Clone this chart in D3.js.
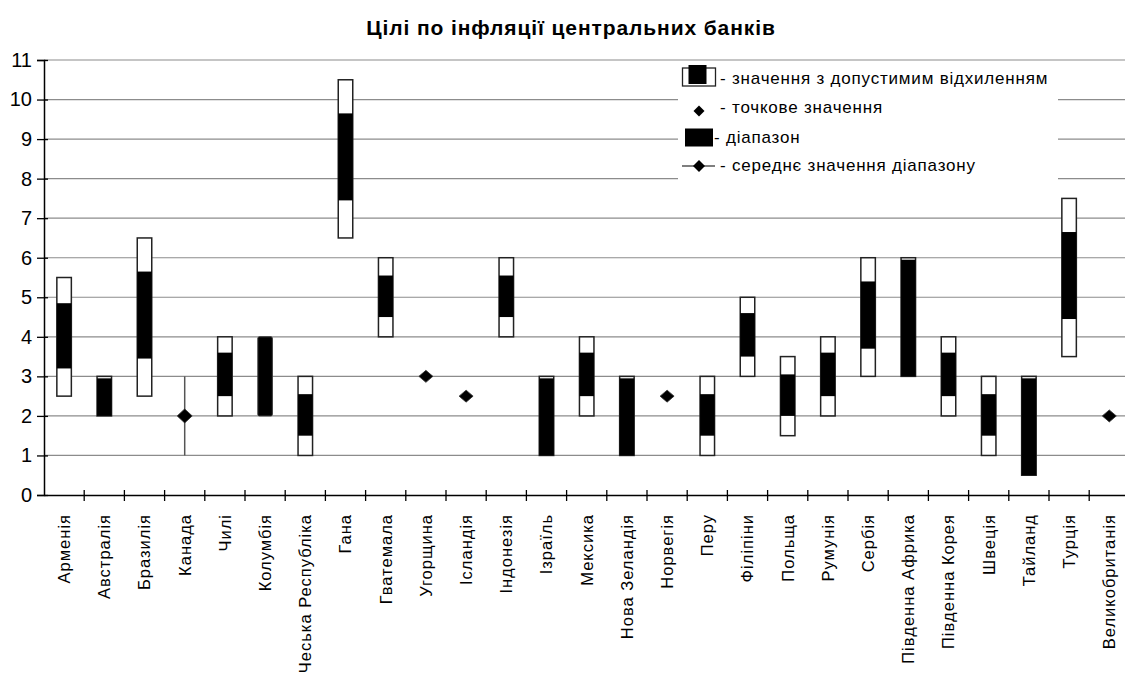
<!DOCTYPE html>
<html>
<head>
<meta charset="utf-8">
<script src="https://cdn.jsdelivr.net/npm/d3@7/dist/d3.min.js"></script>
<style>
  html, body { margin: 0; padding: 0; background: #fff; }
  svg { display: block; font-family: "Liberation Sans", Arial, sans-serif; }
</style>
</head>
<body>
<svg id="chart" width="1125" height="673"></svg>
<script>
// Countries along the horizontal axis
const countries = ["Арменія","Австралія","Бразилія","Канада","Чилі","Колумбія","Чеська Республіка","Гана","Гватемала","Угорщина","Ісландія","Індонезія","Ізраїль","Мексика","Нова Зеландія","Норвегія","Перу","Філіпіни","Польща","Румунія","Сербія","Південна Африка","Південна Корея","Швеція","Тайланд","Турція","Великобританія"];

// Kind of target: tol = value with tolerance band, range = range, point = point target, mid = range midpoint
const targetKind = ["tol","tol","tol","mid","tol","range","tol","tol","tol","point","point","tol","tol","tol","tol","point","tol","tol","tol","tol","tol","tol","tol","tol","tol","tol","point"];

// Outer band (tolerance limits / range limits), %
const outerLow  = [2.5, 2, 2.5, 1, 2, 2, 1, 6.5, 4, null, null, 4, 1, 2, 1, null, 1, 3, 1.5, 2, 3, 3, 2, 1, 0.5, 3.5, null];
const outerHigh = [5.5, 3, 6.5, 3, 4, 4, 3, 10.5, 6, null, null, 6, 3, 4, 3, null, 3, 5, 3.5, 4, 6, 6, 4, 3, 3, 7.5, null];

// Inner dark band, %
const innerLow  = [3.2, 2, 3.45, null, 2.5, null, 1.5, 7.45, 4.5, null, null, 4.5, 1, 2.5, 1, null, 1.5, 3.5, 2, 2.5, 3.7, 3, 2.5, 1.5, 0.5, 4.45, null];
const innerHigh = [4.85, 2.95, 5.65, null, 3.6, null, 2.55, 9.65, 5.55, null, null, 5.55, 2.95, 3.6, 2.95, null, 2.55, 4.6, 3.05, 3.6, 5.4, 5.95, 3.6, 2.55, 2.95, 6.65, null];

// Point targets and range midpoints, %
const pointValue = [null, null, null, 2, null, null, null, null, null, 3, 2.5, null, null, null, null, 2.5, null, null, null, null, null, null, null, null, null, null, 2];

const yTicks = [0,1,2,3,4,5,6,7,8,9,10,11];

const legendLabels = [
  "- значення з допустимим відхиленням",
  "- точкове значення",
  "- діапазон",
  "- середнє значення діапазону"
];

const titleText = "Цілі по інфляції центральних банків";

const svg = d3.select("#chart");
const plotLeft = 44, plotTop = 60, plotBottom = 495, step = 40.2;

const x = d3.scaleBand().domain(countries).range([plotLeft, plotLeft + step * countries.length]).padding(0);
const y = d3.scaleLinear().domain([0, 11]).range([plotBottom, plotTop]);

const barW = 14.5;
const cx = c => x(c) + x.bandwidth() / 2;

// Title
svg.append("text")
  .attr("x", 571).attr("y", 35)
  .attr("text-anchor", "middle")
  .attr("font-size", 21).attr("font-weight", "bold")
  .attr("letter-spacing", 0.9)
  .text(titleText);

// Horizontal gridlines
svg.append("g").selectAll("line")
  .data(yTicks.filter(t => t > 0))
  .join("line")
  .attr("x1", plotLeft).attr("x2", 1125)
  .attr("y1", d => y(d)).attr("y2", d => y(d))
  .attr("stroke", "#8c8c8c").attr("stroke-width", 1.2);

// Y axis
const yAxis = svg.append("g")
  .attr("transform", `translate(${plotLeft},0)`)
  .call(d3.axisLeft(y).tickValues(yTicks).tickSize(7).tickPadding(5));
yAxis.select(".domain").attr("stroke", "#000").attr("stroke-width", 1.5);
yAxis.selectAll(".tick line").attr("x2", -7).attr("x1", 4).attr("stroke", "#000").attr("stroke-width", 1.3);
yAxis.selectAll(".tick text").attr("font-size", 20).attr("font-family", "Liberation Sans, Arial, sans-serif").attr("fill", "#000");

// X axis: labels at category centres, ticks at category boundaries
const xAxis = svg.append("g")
  .attr("transform", `translate(0,${plotBottom})`)
  .call(d3.axisBottom(x).tickSize(0).tickPadding(0));
xAxis.select(".domain").attr("stroke", "#000").attr("stroke-width", 1.5);
xAxis.selectAll(".tick text")
  .attr("font-size", 16.5)
  .attr("letter-spacing", 1)
  .attr("font-family", "Liberation Sans, Arial, sans-serif")
  .attr("fill", "#000")
  .attr("text-anchor", "end")
  .attr("transform", "rotate(-90)")
  .attr("x", -19).attr("y", 0).attr("dy", "0.36em");

svg.append("g").selectAll("line")
  .data(d3.range(1, countries.length + 1))
  .join("line")
  .attr("x1", i => plotLeft + step * i)
  .attr("x2", i => plotLeft + step * i)
  .attr("y1", plotBottom - 5).attr("y2", plotBottom + 6)
  .attr("stroke", "#000").attr("stroke-width", 1.3);

const idx = d3.range(countries.length);
const marks = svg.append("g");

// Outer white boxes for tolerance targets
marks.selectAll("rect.outer")
  .data(idx.filter(i => targetKind[i] === "tol"))
  .join("rect").attr("class", "outer")
  .attr("x", i => cx(countries[i]) - barW / 2)
  .attr("width", barW)
  .attr("y", i => y(outerHigh[i]))
  .attr("height", i => y(outerLow[i]) - y(outerHigh[i]))
  .attr("fill", "#fff").attr("stroke", "#222").attr("stroke-width", 1.5);

// Inner dark bands
marks.selectAll("rect.inner")
  .data(idx.filter(i => targetKind[i] === "tol"))
  .join("rect").attr("class", "inner")
  .attr("x", i => cx(countries[i]) - barW / 2)
  .attr("width", barW)
  .attr("y", i => y(innerHigh[i]))
  .attr("height", i => y(innerLow[i]) - y(innerHigh[i]))
  .attr("fill", "#000");

// Range targets
marks.selectAll("rect.range")
  .data(idx.filter(i => targetKind[i] === "range"))
  .join("rect").attr("class", "range")
  .attr("x", i => cx(countries[i]) - barW / 2)
  .attr("width", barW)
  .attr("y", i => y(outerHigh[i]))
  .attr("height", i => y(outerLow[i]) - y(outerHigh[i]))
  .attr("rx", 1.5)
  .attr("fill", "#000").attr("stroke", "#333").attr("stroke-width", 1);

// Range with midpoint: whisker line
marks.selectAll("line.mid")
  .data(idx.filter(i => targetKind[i] === "mid"))
  .join("line").attr("class", "mid")
  .attr("x1", i => cx(countries[i])).attr("x2", i => cx(countries[i]))
  .attr("y1", i => y(outerLow[i])).attr("y2", i => y(outerHigh[i]))
  .attr("stroke", "#555").attr("stroke-width", 1.5);

// Diamonds for point targets and midpoints
const diamond = (w, h) => `M0,${-h / 2}L${w / 2},0L0,${h / 2}L${-w / 2},0Z`;
marks.selectAll("path.pt")
  .data(idx.filter(i => pointValue[i] != null))
  .join("path").attr("class", "pt")
  .attr("transform", i => `translate(${cx(countries[i])},${y(pointValue[i])})`)
  .attr("d", i => targetKind[i] === "mid" ? diamond(15, 14) : diamond(14, 12))
  .attr("fill", "#000").attr("stroke", "#333").attr("stroke-width", 0.8);

// Legend
const lg = svg.append("g");
lg.append("rect").attr("x", 678).attr("y", 63).attr("width", 380).attr("height", 132).attr("fill", "#fff");

// item 1: box with dark inner block
lg.append("rect").attr("x", 682.5).attr("y", 68).attr("width", 33).attr("height", 18)
  .attr("fill", "#fff").attr("stroke", "#222").attr("stroke-width", 1.3);
lg.append("rect").attr("x", 688.5).attr("y", 65).attr("width", 18).attr("height", 19).attr("fill", "#000");
// item 2: diamond
lg.append("path").attr("transform", "translate(699,111)").attr("d", diamond(11, 11)).attr("fill", "#000");
// item 3: dark block
lg.append("rect").attr("x", 685).attr("y", 128.5).attr("width", 28).attr("height", 18).attr("fill", "#000");
// item 4: line with diamond
lg.append("line").attr("x1", 682).attr("x2", 715).attr("y1", 166).attr("y2", 166).attr("stroke", "#000").attr("stroke-width", 1.2);
lg.append("path").attr("transform", "translate(699,166)").attr("d", diamond(12, 12)).attr("fill", "#000");

const legendX = [720, 720, 714, 720];
const legendY = [78, 107, 137, 165];
lg.selectAll("text.lt")
  .data(legendLabels)
  .join("text").attr("class", "lt")
  .attr("x", (d, i) => legendX[i]).attr("y", (d, i) => legendY[i])
  .attr("dy", "0.35em")
  .attr("font-size", 17)
  .attr("letter-spacing", 0.8)
  .text(d => d);
</script>
</body>
</html>
